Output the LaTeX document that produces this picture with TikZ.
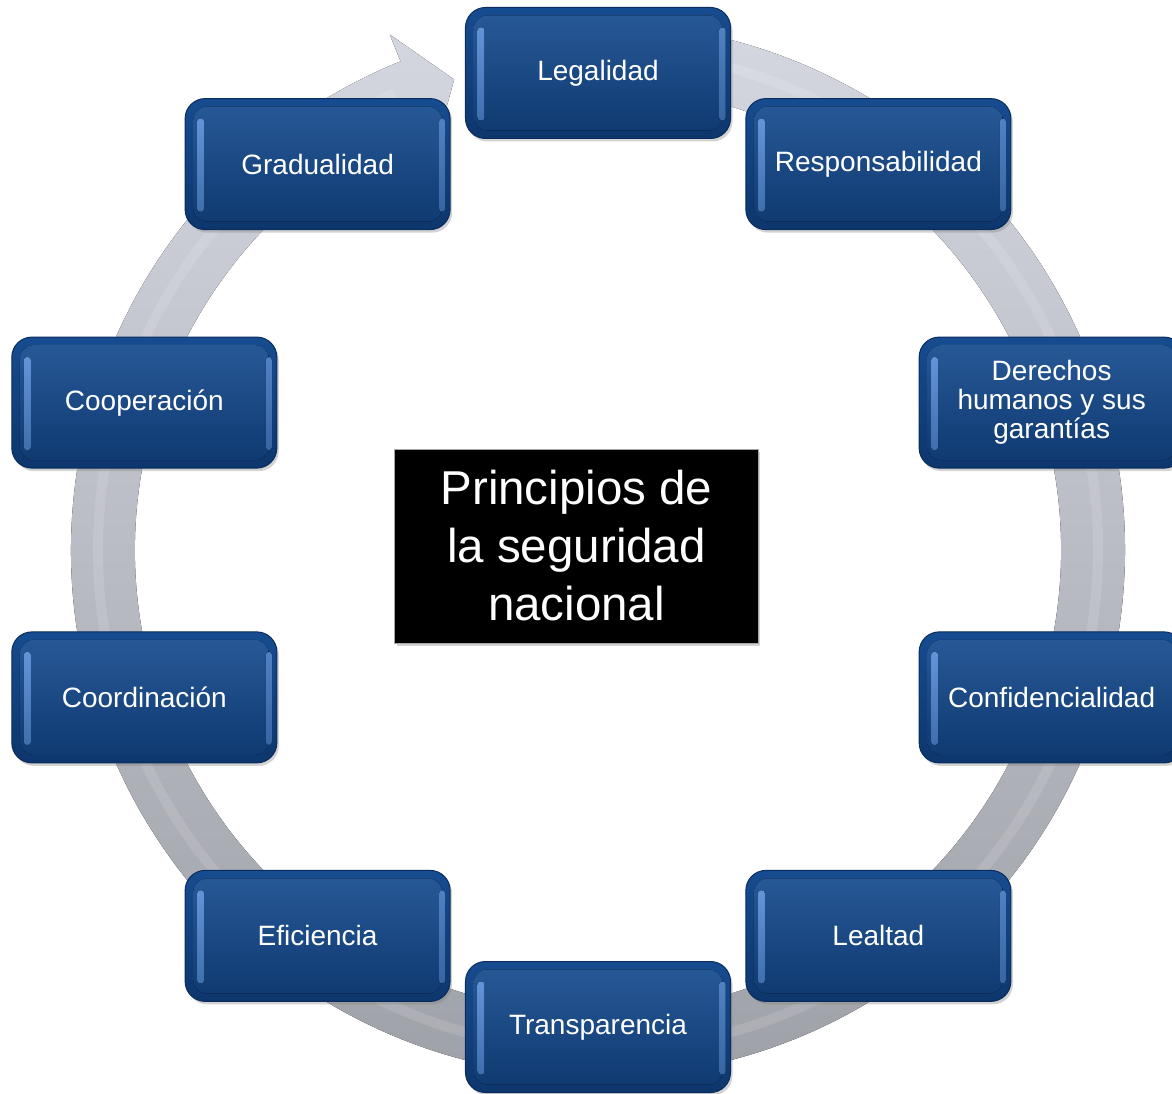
\documentclass[tikz,border=0pt]{standalone}
\usepackage{fontspec}
\setmainfont{Liberation Sans}
\usepackage{xcolor}
\usetikzlibrary{shadows}
\definecolor{boxtop}{RGB}{22,76,144}
\definecolor{boxbot}{RGB}{13,54,108}
\definecolor{boxedge}{RGB}{10,44,94}
\definecolor{boxlight}{RGB}{98,148,216}
\definecolor{ringtop}{RGB}{212,215,224}
\definecolor{ringbot}{RGB}{158,160,167}
\begin{document}
\begin{tikzpicture}%
                [x=1pt, y=1pt,
                ring/.style={top color=ringtop, bottom color=ringbot},
                ringline/.style={color=white, opacity=0.12, line width=10pt},
                principle/.style={draw=boxedge, line width=1pt, rounded corners=20pt,
                    minimum width=265pt, minimum height=131pt, inner sep=0pt,
                    top color=boxtop, bottom color=boxbot,
                    drop shadow={shadow xshift=2pt, shadow yshift=-3pt, opacity=0.35},
                    text=white, align=center, font=\fontsize{28pt}{29pt}\selectfont,
                    path picture={
                        \fill[top color=boxtop!92!white, bottom color=boxbot!92!boxtop, rounded corners=14pt]
                            ([shift={(8pt,-8pt)}]path picture bounding box.north west) rectangle
                            ([shift={(-8pt,8pt)}]path picture bounding box.south east);
                        \fill[top color=boxlight, bottom color=boxlight!60!boxbot, rounded corners=3pt]
                            ([shift={(12pt,-20pt)}]path picture bounding box.north west) rectangle
                            ([shift={(19pt,18pt)}]path picture bounding box.south west);
                        \fill[top color=boxlight!80!boxbot, bottom color=boxlight!50!boxbot, rounded corners=3pt]
                            ([shift={(-11pt,-20pt)}]path picture bounding box.north east) rectangle
                            ([shift={(-5pt,18pt)}]path picture bounding box.south east);
                    }},
                title/.style={draw=gray!70, line width=1pt, fill=black,
                    minimum width=363pt, minimum height=194pt, inner sep=0pt,
                    drop shadow={shadow xshift=2pt, shadow yshift=-3pt, opacity=0.35},
                    text=white, align=center, font=\fontsize{47.5pt}{58pt}\selectfont}]
            %
            %% Page frame, centre of the cycle at the origin
            \useasboundingbox (-598,-543) rectangle (574,550);
            \clip (-598,-543) rectangle (574,550);
            %
            %% Drawing the ring arrow
            \fill[ring] (85:527pt) arc[start angle=85, end angle=-248, radius=527pt]
                -- (112:556pt) -- (107:492pt) -- (112:434pt) -- (112:463pt)
                arc[start angle=-248, end angle=85, radius=463pt] -- cycle;
            \draw[ringline] (85:500pt) arc[start angle=85, end angle=-246, radius=500pt];
            %
            %% Drawing the principles
            \node[principle] (legalidad) at (90:477pt) {Legalidad};
            \node[principle] (responsabilidad) at (54:477pt) {Responsabilidad};
            \node[principle] (derechos) at (18:477pt) {Derechos\\humanos y sus\\garantías};
            \node[principle] (confidencialidad) at (-18:477pt) {Confidencialidad};
            \node[principle] (lealtad) at (-54:477pt) {Lealtad};
            \node[principle] (transparencia) at (-90:477pt) {Transparencia};
            \node[principle] (eficiencia) at (-126:477pt) {Eficiencia};
            \node[principle] (coordinacion) at (-162:477pt) {Coordinación};
            \node[principle] (cooperacion) at (162:477pt) {Cooperación};
            \node[principle] (gradualidad) at (126:477pt) {Gradualidad};
            %
            %% Drawing the title
            \node[title] (principios) at (-21.5,4) {Principios de\\la seguridad\\nacional};
            %
\end{tikzpicture}
\end{document}
